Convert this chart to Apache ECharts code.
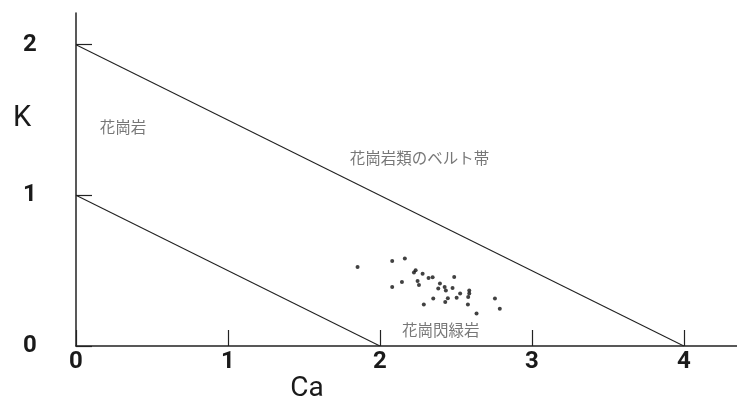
<!DOCTYPE html>
<html><head><meta charset="utf-8">
<script src="https://cdn.jsdelivr.net/npm/echarts@6/dist/echarts.min.js"></script>
<style>html,body{margin:0;padding:0;background:#fff}#c{width:737px;height:403px}</style>
</head><body><div id="c"></div>
<script>
// Tick labels
const xTicks = [0, 1, 2, 3, 4];
const yTicks = [0, 1, 2];
// Boundary lines [Ca, K]
const beltUpper = [[0, 2], [4, 0]];
const beltLower = [[0, 1], [2, 0]];
// Samples [Ca, K]
const samples = [
  [1.853,0.524],[2.081,0.564],[2.164,0.580],[2.081,0.392],[2.145,0.425],
  [2.235,0.502],[2.224,0.487],[2.281,0.480],[2.248,0.431],[2.257,0.405],
  [2.320,0.451],[2.347,0.456],[2.489,0.458],[2.395,0.414],[2.384,0.381],
  [2.426,0.392],[2.434,0.368],[2.478,0.385],[2.528,0.348],[2.588,0.368],
  [2.588,0.348],[2.581,0.325],[2.505,0.321],[2.447,0.317],[2.351,0.315],
  [2.430,0.292],[2.289,0.275],[2.579,0.275],[2.636,0.215],[2.757,0.315],
  [2.789,0.248]
];
// Region labels [Ca, K, text]
const regionLabels = [
  [0.31, 1.45, '花崗岩'],
  [2.26, 1.25, '花崗岩類のベルト帯'],
  [2.40, 0.105, '花崗閃緑岩']
];
const xName = 'Ca';
const yName = 'K';

const chart = echarts.init(document.getElementById('c'));
const tickFont = {fontFamily: 'Roboto', fontWeight: 'bold', fontSize: 24, color: '#1a1a1a'};
chart.setOption({
  animation: false,
  backgroundColor: '#fff',
  grid: {left: 76, right: 0, top: 13, bottom: 57},
  xAxis: {
    type: 'value', min: 0, max: 4.35, interval: 1,
    splitLine: {show: false},
    axisLine: {lineStyle: {color: '#222', width: 1.5}},
    axisTick: {inside: true, length: 16, lineStyle: {color: '#222', width: 1.2}, customValues: xTicks},
    axisLabel: Object.assign({margin: 4, customValues: xTicks, formatter: v => String(v)}, tickFont)
  },
  yAxis: {
    type: 'value', min: 0, max: 2.21, interval: 1,
    splitLine: {show: false},
    axisLine: {show: true, lineStyle: {color: '#222', width: 1.5}},
    axisTick: {show: true, inside: true, length: 16, lineStyle: {color: '#222', width: 1.2}, customValues: yTicks},
    axisLabel: Object.assign({margin: 46, align: 'center', customValues: yTicks, formatter: v => String(v)}, tickFont)
  },
  graphic: [
    {type: 'text', x: 307, y: 389, style: {text: xName, align: 'center', verticalAlign: 'middle', font: '28px Roboto', fill: '#1a1a1a'}},
    {type: 'text', x: 22, y: 119, style: {text: yName, align: 'center', verticalAlign: 'middle', font: '29px Roboto', fill: '#1a1a1a'}}
  ],
  series: [
    {type: 'line', data: beltUpper, symbol: 'none', lineStyle: {color: '#222', width: 1.1}, silent: true},
    {type: 'line', data: beltLower, symbol: 'none', lineStyle: {color: '#222', width: 1.1}, silent: true},
    {type: 'scatter', data: samples, symbol: 'circle', symbolSize: 4, itemStyle: {color: '#111'}},
    {type: 'scatter', data: regionLabels, symbolSize: 0,
      label: {show: true, position: 'inside', formatter: p => p.data[2],
        fontFamily: '"Noto Sans CJK JP"', fontSize: 15.5, color: '#555'}}
  ]
});
</script></body></html>
